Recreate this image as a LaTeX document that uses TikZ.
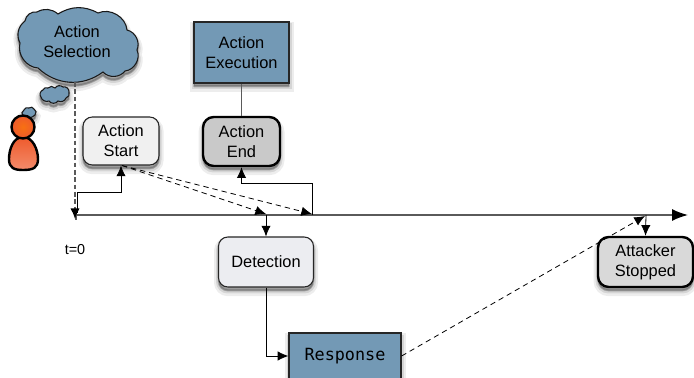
\documentclass[tikz,border=0pt]{standalone}
\usepackage{fontspec}
\setmainfont{Liberation Sans}
\setmonofont{DejaVu Sans Mono}
\usetikzlibrary{arrows.meta,calc}
\definecolor{steel}{HTML}{7399B5}
\definecolor{lineg}{HTML}{5A5A5A}
\definecolor{personO}{HTML}{EE5A2C}
\tikzset{
  softshadow/.style={
    preaction={draw=black,fill=black,opacity=.07,line width=9*.75pt,transform canvas={yshift=-3.5pt}},
    preaction={draw=black,fill=black,opacity=.10,line width=5*.75pt,transform canvas={yshift=-3pt}},
    preaction={draw=black,fill=black,opacity=.16,line width=2*.75pt,transform canvas={yshift=-2.5pt}}},
  boxbase/.style={minimum height=#1*.75pt,inner sep=0pt,align=center,font=\fontsize{12.3}{15}\selectfont,softshadow},
  bluebox/.style={boxbase=60,draw=black!85,line width=.9pt,fill=steel,minimum width=95*.75pt},
  roundthin/.style={boxbase=50,draw=black!85,line width=.8pt,rounded corners=7pt,minimum width=95*.75pt},
  roundthick/.style={boxbase=50,draw=black,line width=1.8pt,rounded corners=8pt,minimum width=95*.75pt},
  link/.style={draw=black,line width=.6pt,-{Latex[length=8pt,width=7pt]}},
  dashlink/.style={draw=black,line width=.6pt,dash pattern=on 4pt off 3pt,-{Latex[length=8pt,width=7pt]}},
  cloudy/.style={draw=black!90,line width=.8pt,fill=steel,softshadow},
  greyline/.style={draw=lineg,line width=1.1pt},
  personpart/.style={draw=black,line width=1.8pt}
}
\begin{document}
\begin{tikzpicture}[x=.75pt,y=-.75pt]
\useasboundingbox (0,0) rectangle (694,378);
% large cloud
\path[cloudy] (25,21) to[bend left=45] (37,12) to[bend left=35] (58,14) to[bend left=30] (98,13)
  to[bend left=55] (127,30) to[bend left=50] (137,50) to[bend left=55] (125,71) to[bend left=50] (103,72)
  to[bend left=40] (38,68) to[bend left=50] (20,43) to[bend left=40] (25,21) -- cycle;
\node[font=\fontsize{12.3}{15}\selectfont,align=center] (sel) at (77,42) {Action\\Selection};
\coordinate (selbottom) at (75,82);
% small clouds
\path[cloudy] (43,90) to[bend left=50] (48,88) to[bend left=50] (55,88) to[bend left=50] (63,87)
  to[bend left=60] (69,92) to[bend left=55] (66,98) to[bend left=50] (58,101) to[bend left=60] (49,101)
  to[bend left=50] (41,97) to[bend left=60] (43,90) -- cycle;
\path[cloudy] (24,110) to[bend left=50] (29,108) to[bend left=60] (34,109) to[bend left=60] (35,115)
  to[bend left=40] (23,116) to[bend left=60] (24,110) -- cycle;
% person
\path[personpart,top color=personO,bottom color=personO!70!white]
  (23,137) .. controls (13,137) and (9,150) .. (9,159) .. controls (9,168) and (14,170) .. (23,170)
  .. controls (33,170) and (38,168) .. (38,159) .. controls (38,150) and (33,137) .. (23,137) -- cycle;
\path[personpart,inner color=orange!60!personO,outer color=personO] (23,127) circle[x radius=11.5,y radius=11.5];
% boxes
\node[roundthin,fill=black!6,minimum width=76*.75pt,minimum height=48*.75pt] (start) at (121,141) {Action\\Start};
\node[bluebox,minimum height=61*.75pt] (exec) at (241.5,52.5) {Action\\Execution};
\node[roundthick,fill=black!21,minimum width=77*.75pt,minimum height=49*.75pt] (end) at (241.5,141.5) {Action\\End};
\node[roundthin,fill={rgb,255:red,236;green,237;blue,241},minimum height=50*.75pt] (detect) at (266,262) {Detection};
\node[bluebox,minimum width=112*.75pt,minimum height=46*.75pt,font=\ttfamily\fontsize{12.6}{15}\selectfont] (resp) at (345,356) {Response};
\node[roundthick,fill=black!15,minimum height=50*.75pt] (stop) at (645.5,262) {Attacker\\Stopped};
% timeline coordinates
\coordinate (t0) at (76,215);
\coordinate (tend) at (688,215);
\coordinate (tdet) at (266,215);
\coordinate (tact) at (312,215);
\coordinate (tstop) at (646,215);
% timeline
\draw[greyline,-{Latex[length=12pt,width=9pt,black]}] (t0) ++(0,5) -- ++(0,-5) -- (tend);
\node[font=\fontsize{10.8}{13}\selectfont,inner sep=0pt] (tlabel) at (75,250) {t=0};
% connectors
\draw[greyline,dash pattern=on 3.5pt off 2pt,-{Latex[length=8pt,width=7pt,black]}] (selbottom) -- (75,219);
\draw[link] (77,213) -- (77,192) -| (start.south);
\draw[greyline] (exec.south) -- (end.north);
\draw[link] (tact) -- (312,183) -| (end.south);
\draw[dashlink] ($(start.south)+(1,0)$) -- ($(tdet)+(0,-1)$);
\draw[dashlink] ($(start.south)+(1,0)$) -- ($(tact)+(0,-1)$);
\draw[link] (tdet) -- (detect.north);
\draw[link] (detect.south) |- (resp.west);
\draw[dashlink] (resp.east) -- ($(tstop)+(-1,1)$);
\draw[link] (tstop) -- (stop.north);
\end{tikzpicture}
\end{document}
